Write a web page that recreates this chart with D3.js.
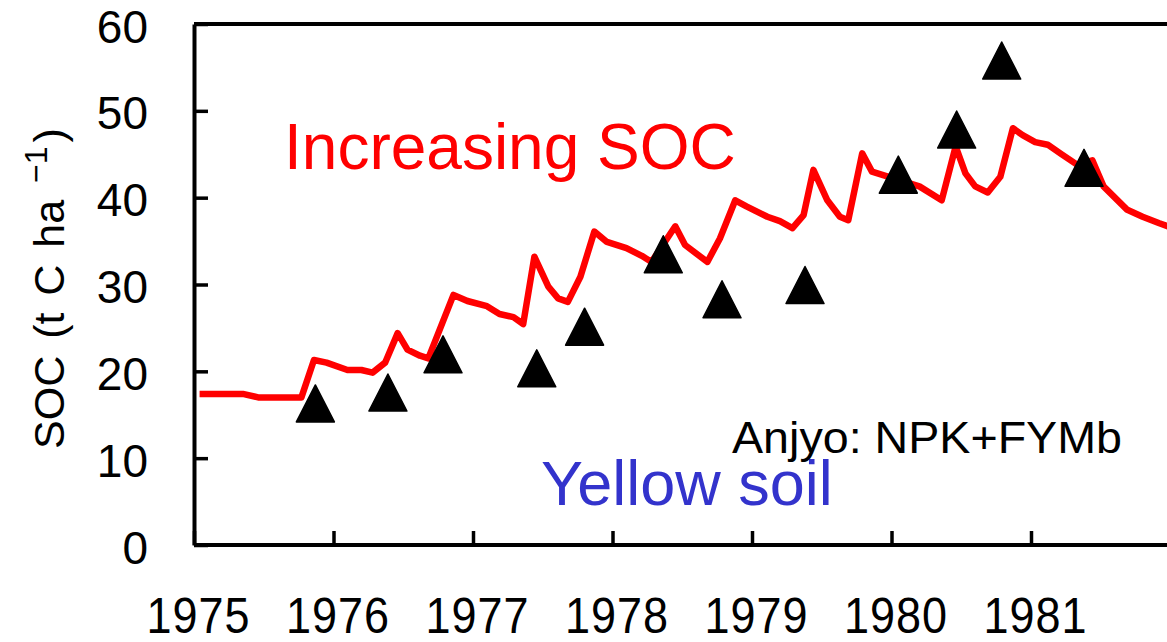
<!DOCTYPE html>
<html>
<meta charset="utf-8">
<head>
  <title>SOC Anjyo</title>
</head>

<style>
body { margin: 0; background: white; }
text {
  font-family: "Liberation Sans", Arial, Helvetica, sans-serif;
}
</style>

<body>
  <svg width="1167" height="642"></svg>

  <script src="https://cdnjs.cloudflare.com/ajax/libs/d3/7.8.5/d3.min.js"></script>
  <script>

// simulated SOC (decimal year, t C/ha)
var simYears = [1975.04, 1975.35, 1975.46, 1975.77, 1975.86, 1975.95, 1976.10, 1976.20, 1976.28, 1976.37,
  1976.46, 1976.53, 1976.62, 1976.68, 1976.86, 1976.96, 1977.10, 1977.19, 1977.29, 1977.36,
  1977.44, 1977.54, 1977.61, 1977.68, 1977.77, 1977.87, 1977.96, 1978.10, 1978.21, 1978.28,
  1978.45, 1978.52, 1978.68, 1978.77, 1978.88, 1978.96, 1979.11, 1979.20, 1979.29, 1979.37,
  1979.44, 1979.54, 1979.63, 1979.69, 1979.79, 1979.86, 1979.94, 1980.06, 1980.20, 1980.36,
  1980.46, 1980.53, 1980.60, 1980.69, 1980.78, 1980.87, 1980.94, 1981.03, 1981.12, 1981.21,
  1981.33, 1981.44, 1981.52, 1981.69, 1981.80, 1981.92, 1982.00];
var simSOC = [17.4, 17.4, 17.0, 17.0, 21.3, 21.0, 20.15, 20.15, 19.85, 21.0,
  24.4, 22.5, 21.8, 21.5, 28.8, 28.1, 27.5, 26.6, 26.25, 25.45,
  33.2, 29.75, 28.4, 28.0, 30.9, 36.1, 34.9, 34.2, 33.3, 32.6,
  36.7, 34.55, 32.6, 35.3, 39.7, 39.0, 37.8, 37.3, 36.5, 38.0,
  43.2, 39.7, 37.8, 37.4, 45.1, 43.0, 42.6, 42.0, 41.3, 39.7,
  45.9, 42.8, 41.3, 40.6, 42.4, 48.0, 47.2, 46.4, 46.1, 45.1,
  43.8, 44.3, 41.3, 38.6, 37.8, 37.05, 36.6];

// measured SOC
var obsYears = [1975.87, 1976.39, 1976.785, 1977.457, 1977.80, 1978.364, 1978.785, 1979.38, 1980.049, 1980.467, 1980.79, 1981.38];
var obsSOC = [16.3, 17.56, 21.96, 20.35, 25.14, 33.48, 28.3, 29.94, 42.65, 47.85, 55.8, 43.44];

var yearTicks = [1975, 1976, 1977, 1978, 1979, 1980, 1981];
var socTicks = [0, 10, 20, 30, 40, 50, 60];

var svg = d3.select('svg');

var x = d3.scaleLinear().domain([1975, 1982]).range([194, 1170.5]);
var y = d3.scaleLinear().domain([0, 60]).range([545, 24]);

// frame: top line
svg.append('line')
  .attr('x1', x(1975)).attr('x2', 1167)
  .attr('y1', y(60)).attr('y2', y(60))
  .attr('stroke', 'black').attr('stroke-width', 4);

var yAxis = svg.append('g')
  .attr('transform', 'translate(' + x(1975) + ',0)')
  .call(d3.axisLeft(y).tickValues(socTicks).tickSize(-14).tickSizeOuter(0).tickPadding(46));
yAxis.select('.domain').attr('stroke-width', 4);
yAxis.selectAll('.tick line').attr('stroke-width', 3.5);
yAxis.selectAll('text')
  .attr('font-size', 46)
  .attr('font-family', '"Liberation Sans", Arial, sans-serif')
  .attr('fill', 'black')
  .attr('dy', 18);

var xAxis = svg.append('g')
  .attr('transform', 'translate(0,' + y(0) + ')')
  .call(d3.axisBottom(x).tickValues(yearTicks).tickSize(-14).tickSizeOuter(0).tickFormat(d3.format('d')));
xAxis.select('.domain').attr('stroke-width', 4).attr('d', 'M' + x(1975) + ',0H1167');
xAxis.selectAll('.tick line').attr('stroke-width', 3.5);
xAxis.selectAll('text')
  .attr('font-size', 45)
  .attr('font-family', '"Liberation Sans", Arial, sans-serif')
  .attr('fill', 'black')
  .attr('y', 0).attr('dy', null)
  .attr('letter-spacing', 1)
  .attr('transform', 'translate(4,88) scale(1,1.1)');

// simulated line
var line = d3.line()
  .x(function(d, i) { return x(simYears[i]); })
  .y(function(d) { return y(d); });

svg.append('path')
  .datum(simSOC)
  .attr('d', line)
  .attr('fill', 'none')
  .attr('stroke', '#ff0000')
  .attr('stroke-width', 6.5)
  .attr('stroke-linejoin', 'round');

// observed triangles
svg.selectAll('.obs')
  .data(obsSOC)
  .enter()
  .append('path')
  .attr('class', 'obs')
  .attr('transform', function(d, i) { return 'translate(' + [x(obsYears[i]), y(d)] + ')'; })
  .attr('d', 'M0,-18.5L19,18.5L-19,18.5Z')
  .attr('fill', 'black')
  .attr('stroke', 'black')
  .attr('stroke-width', 1.5)
  .attr('stroke-linejoin', 'round');

// annotations
svg.append('text')
  .attr('x', 284).attr('y', 169)
  .attr('font-size', 64)
  .attr('fill', '#ff0000')
  .text('Increasing SOC');

svg.append('text')
  .attr('x', 541).attr('y', 505)
  .attr('font-size', 63)
  .attr('fill', '#3333cc')
  .text('Yellow soil');

svg.append('text')
  .attr('x', 732).attr('y', 453)
  .attr('font-size', 44)
  .attr('textLength', 390)
  .attr('lengthAdjust', 'spacingAndGlyphs')
  .attr('fill', 'black')
  .text('Anjyo: NPK+FYMb');

// y axis title
var yTitle = svg.append('text')
  .attr('transform', 'translate(64,449) rotate(-90)')
  .attr('font-size', 43)
  .attr('word-spacing', 5)
  .attr('fill', 'black');
yTitle.append('tspan').text('SOC (t C ha ');
yTitle.append('tspan').attr('dy', -17).attr('font-size', 32).text('\u22121');
yTitle.append('tspan').attr('dy', 17).attr('dx', 4).text(')');

  </script>
</body>
</html>
